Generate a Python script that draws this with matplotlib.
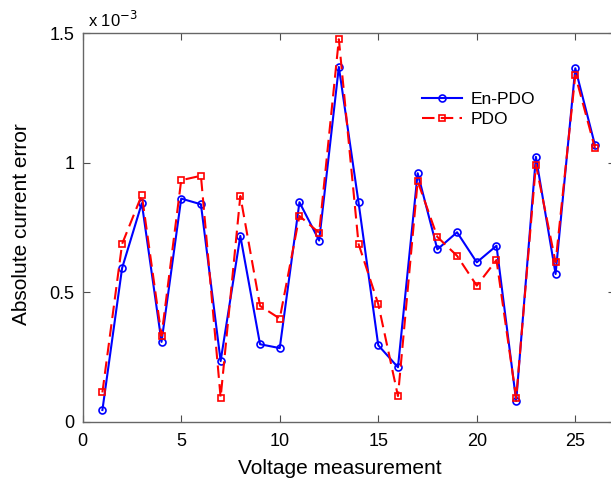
import matplotlib
matplotlib.use("Agg")
import matplotlib.pyplot as plt

plt.rcParams['font.family'] = ['Liberation Sans', 'DejaVu Sans']

# values in units of 1e-3
measurement = list(range(1, 27))
en_pdo = [0.045, 0.593, 0.843, 0.308, 0.861, 0.839, 0.234, 0.717, 0.299, 0.284,
          0.847, 0.699, 1.369, 0.846, 0.295, 0.210, 0.959, 0.665, 0.731, 0.615,
          0.679, 0.080, 1.022, 0.570, 1.364, 1.067]
pdo = [0.113, 0.686, 0.875, 0.331, 0.932, 0.949, 0.093, 0.871, 0.447, 0.398,
       0.794, 0.729, 1.476, 0.686, 0.454, 0.099, 0.928, 0.713, 0.640, 0.525,
       0.624, 0.090, 0.992, 0.615, 1.337, 1.055]
xticks = [0, 5, 10, 15, 20, 25]
yticks = [0, 0.5, 1, 1.5]
yticklabels = ['0', '0.5', '1', '1.5']

W, H = 611, 479
fig = plt.figure(figsize=(W / 100, H / 100), dpi=100)
ax = fig.add_axes([82.7 / W, 1 - 421.7 / H, 532 / W, 388.7 / H])

ax.plot(measurement, en_pdo, color='#0000ff', lw=1.5, marker='o', ms=5,
        mfc='none', mew=1.2, label='En-PDO')
ax.plot(measurement, pdo, color='#ff0000', lw=1.5, ls=(0, (6, 3)), marker='s', ms=4.5,
        mfc='none', mew=1.2, label='PDO')

ax.set_xlim(0, 27)
ax.set_ylim(0, 1.5)
ax.set_xticks(xticks)
ax.set_yticks(yticks)
ax.set_yticklabels(yticklabels)
ax.tick_params(direction='in', length=5, width=0.8, color='0.3', labelsize=13,
               top=True, right=True)
ax.tick_params(axis='x', pad=8)
ax.tick_params(axis='y', pad=6)
for s in ax.spines.values():
    s.set_color('0.4')
    s.set_linewidth(1.0)

ax.text(88 / W, 1 - 27 / H, r'x 10$^{-3}$', transform=fig.transFigure,
        fontsize=12, ha='left', va='baseline')
fig.text(340 / W, 1 - 468 / H, 'Voltage measurement', fontsize=15,
         ha='center', va='center')
fig.text(22 / W, 1 - 224 / H, 'Absolute current error', fontsize=15,
         ha='center', va='center', rotation=90)

leg = ax.legend(loc='upper left', bbox_to_anchor=(415 / W, 1 - 85 / H),
                bbox_transform=fig.transFigure, frameon=False, fontsize=12.5,
                handlelength=2.3, handletextpad=0.5, labelspacing=0.3,
                borderaxespad=0)

fig.savefig('out.png', dpi=100)
